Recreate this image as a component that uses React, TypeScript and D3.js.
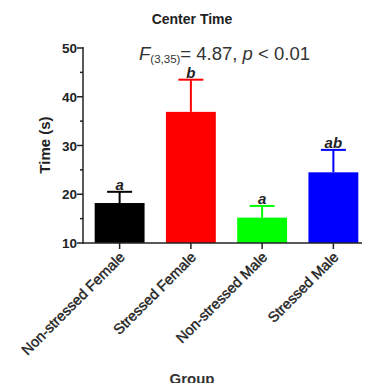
import { useEffect, useRef } from 'react';
import * as d3 from 'd3';

const groups = ['Non-stressed Female', 'Stressed Female', 'Non-stressed Male', 'Stressed Male'];
const means = [18.2, 36.9, 15.2, 24.5];
const errors = [2.3, 6.6, 2.4, 4.6];
const letters = ['a', 'b', 'a', 'ab'];
const colors = ['#000000', '#ff0000', '#00ff00', '#0000ff'];
const yTicks = [10, 20, 30, 40, 50];
const yMinor = [15, 25, 35, 45];

const App = () => {
    const svgRef = useRef<SVGSVGElement>(null);

    useEffect(() => {
        const width = 370;
        const height = 391;
        const svg = d3.select(svgRef.current)
            .attr('width', width)
            .attr('height', height)
            .style('font-family', 'Liberation Sans, Arial, sans-serif');
        svg.selectAll('*').remove();

        const left = 83, right = 369, top = 48, bottom = 243;

        const x = d3.scaleBand().domain(groups).range([left + 1, right]).paddingInner(0.3).paddingOuter(0.15);
        const y = d3.scaleLinear().domain([10, 50]).range([bottom, top]);

        const ink = '#222';

        // title
        svg.append('text')
            .attr('x', 192).attr('y', 24)
            .attr('text-anchor', 'middle')
            .attr('font-size', 14).attr('font-weight', 700)
            .attr('fill', ink)
            .text('Center Time');

        // stats annotation
        const stat = svg.append('text')
            .attr('x', 139).attr('y', 60)
            .attr('font-size', 18.5)
            .attr('fill', '#333');
        stat.append('tspan').attr('font-style', 'italic').text('F');
        stat.append('tspan').attr('font-size', 11.5).attr('dy', 3).text('(3,35)');
        stat.append('tspan').attr('dy', -3).text('= 4.87, ');
        stat.append('tspan').attr('font-style', 'italic').text('p');
        stat.append('tspan').text(' < 0.01');

        // bars
        const g = svg.append('g');
        g.selectAll('rect.bar')
            .data(groups)
            .enter().append('rect')
            .attr('x', d => x(d)!)
            .attr('width', x.bandwidth())
            .attr('y', (_, i) => y(means[i]))
            .attr('height', (_, i) => bottom - y(means[i]))
            .attr('fill', (_, i) => colors[i]);

        // error bars (upper only)
        const capW = 25;
        groups.forEach((d, i) => {
            const cx = x(d)! + x.bandwidth() / 2;
            const yTop = y(means[i] + errors[i]);
            g.append('line')
                .attr('x1', cx).attr('x2', cx)
                .attr('y1', y(means[i])).attr('y2', yTop)
                .attr('stroke', colors[i]).attr('stroke-width', 2);
            g.append('line')
                .attr('x1', cx - capW / 2).attr('x2', cx + capW / 2)
                .attr('y1', yTop).attr('y2', yTop)
                .attr('stroke', colors[i]).attr('stroke-width', 2);
            g.append('text')
                .attr('x', cx).attr('y', yTop - 2)
                .attr('text-anchor', 'middle')
                .attr('font-size', 15).attr('font-weight', 700).attr('font-style', 'italic')
                .attr('fill', ink)
                .text(letters[i]);
        });

        // y axis
        const yAxis = svg.append('g');
        yAxis.append('line')
            .attr('x1', left).attr('x2', left)
            .attr('y1', top - 1).attr('y2', bottom + 1)
            .attr('stroke', ink).attr('stroke-width', 1.5);
        yTicks.forEach(t => {
            yAxis.append('line')
                .attr('x1', left - 6).attr('x2', left)
                .attr('y1', y(t)).attr('y2', y(t))
                .attr('stroke', ink).attr('stroke-width', 1.5);
            yAxis.append('text')
                .attr('x', left - 6).attr('y', y(t) + 5)
                .attr('text-anchor', 'end')
                .attr('font-size', 13.5).attr('font-weight', 700)
                .attr('fill', ink)
                .text(t);
        });
        yMinor.forEach(t => {
            yAxis.append('line')
                .attr('x1', left - 3).attr('x2', left)
                .attr('y1', y(t)).attr('y2', y(t))
                .attr('stroke', ink).attr('stroke-width', 1.5);
        });

        svg.append('text')
            .attr('transform', `translate(50,${145}) rotate(-90)`)
            .attr('text-anchor', 'middle')
            .attr('font-size', 15).attr('font-weight', 700)
            .attr('fill', ink)
            .text('Time (s)');

        // x axis
        const xAxis = svg.append('g');
        xAxis.append('line')
            .attr('x1', left).attr('x2', right)
            .attr('y1', bottom).attr('y2', bottom)
            .attr('stroke', ink).attr('stroke-width', 1.5);
        groups.forEach(d => {
            const cx = x(d)! + x.bandwidth() / 2;
            xAxis.append('line')
                .attr('x1', cx).attr('x2', cx)
                .attr('y1', bottom).attr('y2', bottom + 6)
                .attr('stroke', ink).attr('stroke-width', 1.5);
            xAxis.append('text')
                .attr('transform', `translate(${cx + 6},${bottom + 15}) rotate(-45)`)
                .attr('text-anchor', 'end')
                .attr('font-size', 14.5)
                .attr('fill', ink)
                .attr('stroke', ink).attr('stroke-width', 0.4)
                .text(d);
        });

        svg.append('text')
            .attr('x', 192).attr('y', 384)
            .attr('text-anchor', 'middle')
            .attr('font-size', 15).attr('font-weight', 700)
            .attr('fill', '#333')
            .text('Group');
    }, []);

    return (
        <div style={{ margin: -8 }}>
            <svg ref={svgRef} style={{ display: 'block' }}></svg>
        </div>
    );
};

export default App;
